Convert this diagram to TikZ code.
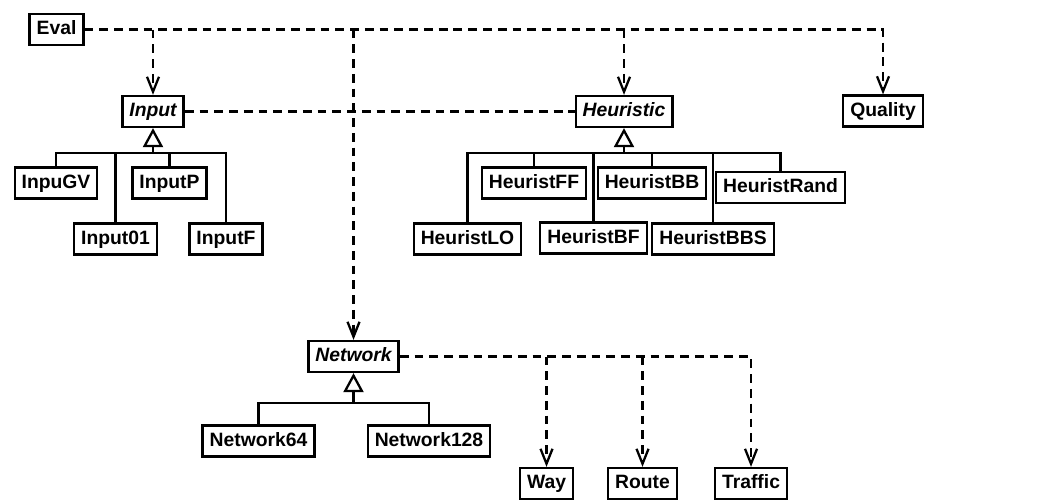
\documentclass[tikz,border=0pt]{standalone}
\usepackage{fontspec}
\setmainfont{Liberation Sans}
\usetikzlibrary{arrows.meta}
\begin{document}
\begin{tikzpicture}[x=0.02cm, y=-0.02cm, line width=1.3pt,
    cls/.style={draw, fill=white, font=\bfseries\fontsize{11}{13}\selectfont, inner xsep=0.14cm, inner ysep=0pt, text height=8.6pt, text depth=2.6pt, minimum height=0.62cm},
    abs/.style={cls, font=\bfseries\itshape\fontsize{11}{13}\selectfont},
    assoc/.style={dash pattern=on 5pt off 3.4pt},
    uses/.style={assoc, -{Straight Barb[length=0.3cm,width=0.24cm]}},
    inh/.style={-{Triangle[open,length=0.38cm,width=0.4cm]}}]
\fill[white] (0,0) rectangle (1053,500);

\node[cls] (eval) at (56.5,29.5) {Eval};
\node[abs] (input) at (153,111.5) {Input};
\node[abs] (heuristic) at (624,111.5) {Heuristic};
\node[cls] (quality) at (883,111) {Quality};
\node[abs] (network) at (353.5,356.5) {Network};

% subclasses
\foreach \cx/\cy/\nm/\txt in {56/183/inpugv/InpuGV, 169.5/183/inputp/InputP, 115.5/239/input01/Input01, 226/239/inputf/InputF,
    534/183/heuristff/HeuristFF, 652/183/heuristbb/HeuristBB, 780.5/187.5/heuristrand/HeuristRand,
    467.5/239/heuristlo/HeuristLO, 593.5/238/heuristbf/HeuristBF, 713/239/heuristbbs/HeuristBBS,
    258.5/441/network64/Network64, 429/441/network128/Network128,
    546.5/483.5/way/Way, 642.5/483.5/route/Route, 751/483.5/traffic/Traffic}
{
    \node[cls] (\nm) at (\cx,\cy) {\txt};
}

\coordinate (ibar) at (0,153);
\coordinate (nbar) at (0,403);

\foreach \nm in {inpugv,inputp,input01,inputf}
    \draw (input.south |- ibar) -| (\nm.north);
\foreach \nm in {heuristlo,heuristff,heuristbf,heuristbb,heuristbbs,heuristrand}
    \draw (heuristic.south |- ibar) -| (\nm.north);
\foreach \nm in {network64,network128}
    \draw (network.south |- nbar) -| (\nm.north);

\draw[inh] (input.south |- ibar) -- (input.south);
\draw[inh] (heuristic.south |- ibar) -- (heuristic.south);
\draw[inh] (network.south |- nbar) -- (network.south);

% dependencies
\draw[uses] (eval.east) -| (quality.north);
\foreach \nm in {input,network,heuristic}
    \draw[uses] (eval.east -| \nm.north) -- (\nm.north);
\draw[assoc] (input.east) -- (heuristic.west);
\draw[uses] (network.east) -| (traffic.north);
\foreach \nm in {way,route}
    \draw[uses] (network.east -| \nm.north) -- (\nm.north);
\end{tikzpicture}
\end{document}
